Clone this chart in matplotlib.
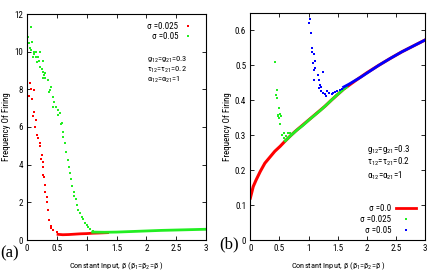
import matplotlib
matplotlib.use('Agg')
import matplotlib.pyplot as plt
from matplotlib import font_manager
from matplotlib.lines import Line2D

# ---------------- data ----------------
# panel (a): sigma = 0.025 (red) scattered points
a_red_x = [0.005, 0.005, 0.05, 0.07, 0.11, 0.03, 0.08, 0.12, 0.10, 0.15, 0.13, 0.17, 0.19, 0.21,
           0.22, 0.25, 0.23, 0.26, 0.26, 0.27, 0.28, 0.30, 0.31, 0.33, 0.33, 0.36, 0.37, 0.40,
           0.41, 0.44, 0.50, 0.52]
a_red_y = [8.82, 8.23, 8.35, 8.0, 7.97, 7.65, 7.47, 6.81, 6.58, 6.37, 6.02, 5.58, 5.4, 5.13,
           4.99, 4.51, 4.28, 4.16, 3.89, 3.45, 3.36, 2.92, 2.57, 2.27, 2.04, 1.59, 1.06, 0.74,
           0.62, 0.53, 0.42, 0.32]
# panel (a): sigma = 0.025 dense tail
a_red_tail_x = [0.52, 0.6, 0.7, 0.8, 0.9, 1.0, 1.1, 1.2, 1.35]
a_red_tail_y = [0.30, 0.28, 0.29, 0.31, 0.33, 0.34, 0.36, 0.37, 0.39]
# panel (a): sigma = 0.05 (green) scattered points
a_grn_x = [0.067, 0.005, 0.02, 0.04, 0.08, 0.05, 0.07, 0.11, 0.15, 0.22, 0.12, 0.10, 0.15, 0.19,
           0.16, 0.20, 0.27, 0.22, 0.25, 0.27, 0.31, 0.28, 0.26, 0.30, 0.36, 0.41, 0.39, 0.37,
           0.44, 0.46, 0.43, 0.49, 0.52, 0.55, 0.52, 0.58, 0.57, 0.60, 0.61, 0.64, 0.66, 0.69,
           0.71, 0.72, 0.74, 0.76, 0.78, 0.79, 0.82, 0.83, 0.86, 0.89, 0.92, 0.94, 0.97, 1.0,
           1.03, 1.06, 1.11, 1.17]
a_grn_y = [11.33, 11.12, 10.76, 10.48, 10.5, 10.18, 10.09, 10.0, 10.0, 10.0, 9.88, 9.74, 9.74, 9.7,
           9.47, 9.52, 9.52, 9.2, 9.06, 8.94, 8.89, 8.76, 8.59, 8.59, 8.5, 8.14, 7.97, 7.88,
           7.58, 7.35, 7.08, 7.08, 6.9, 6.73, 6.64, 6.2, 6.16, 5.75, 5.49, 5.13, 4.69, 4.25,
           3.89, 3.54, 3.22, 2.87, 2.57, 2.34, 2.16, 1.86, 1.59, 1.42, 1.24, 1.10, 0.89, 0.80,
           0.71, 0.57, 0.48, 0.41]
# panel (a): sigma = 0.05 dense tail
a_grn_tail_x = [1.1, 1.3, 1.5, 1.75, 2.0, 2.25, 2.5, 2.75, 3.0]
a_grn_tail_y = [0.42, 0.41, 0.42, 0.45, 0.48, 0.51, 0.53, 0.55, 0.57]

# panel (b): sigma = 0.0 (deterministic, red line)
b_det_x = [0, 0.05, 0.1, 0.17, 0.25, 0.34, 0.42, 0.51, 0.59, 0.68, 0.77, 0.94, 1.11, 1.28, 1.4,
           1.6, 1.8, 2.0, 2.2, 2.4, 2.6, 2.8, 3.0]
b_det_y = [0.12, 0.153, 0.172, 0.196, 0.22, 0.238, 0.254, 0.268, 0.282, 0.297, 0.311, 0.335,
           0.359, 0.383, 0.402, 0.432, 0.456, 0.479, 0.50, 0.52, 0.539, 0.556, 0.573]
# panel (b): sigma = 0.025 (green) scattered points
b_grn_x = [0.42, 0.45, 0.44, 0.45, 0.49, 0.48, 0.51, 0.47, 0.50, 0.52, 0.51, 0.55, 0.58, 0.57,
           0.61, 0.64, 0.68]
b_grn_y = [0.511, 0.429, 0.414, 0.407, 0.378, 0.359, 0.362, 0.354, 0.35, 0.356, 0.333, 0.302,
           0.307, 0.292, 0.297, 0.305, 0.307]
# panel (b): sigma = 0.025 dense part
b_grn_tail_x = [0.6, 0.7, 0.8, 0.9, 1.0, 1.1, 1.2, 1.3, 1.4, 1.5, 1.6, 1.65]
b_grn_tail_y = [0.284, 0.30, 0.315, 0.328, 0.343, 0.357, 0.371, 0.386, 0.402, 0.417, 0.432, 0.438]
# panel (b): sigma = 0.05 (blue) scattered points
b_blu_x = [1.04, 1.02, 1.01, 1.04, 1.06, 1.05, 1.10, 1.11, 1.07, 1.11, 1.10, 1.24, 1.16, 1.09,
           1.17, 1.19, 1.21, 1.18, 1.22, 1.25, 1.32, 1.28, 1.30, 1.35, 1.40, 1.42, 1.45, 1.48,
           1.53, 1.57]
b_blu_y = [0.649, 0.632, 0.621, 0.592, 0.551, 0.538, 0.534, 0.512, 0.508, 0.493, 0.486, 0.481,
           0.472, 0.458, 0.458, 0.445, 0.438, 0.436, 0.428, 0.422, 0.428, 0.417, 0.412, 0.42,
           0.417, 0.42, 0.423, 0.426, 0.429, 0.433]
# panel (b): sigma = 0.05 dense part
b_blu_tail_x = [1.6, 1.7, 1.8, 1.9, 2.0, 2.2, 2.4, 2.6, 2.8, 3.0]
b_blu_tail_y = [0.438, 0.447, 0.457, 0.467, 0.478, 0.50, 0.52, 0.539, 0.556, 0.573]

x_ticks = [0, 0.5, 1, 1.5, 2, 2.5, 3]
x_tick_labels = ['0', '0.5', '1', '1.5', '2', '2.5', '3']
a_y_ticks = [0, 2, 4, 6, 8, 10, 12]
b_y_ticks = [0, 0.1, 0.2, 0.3, 0.4, 0.5, 0.6]
b_y_tick_labels = ['0', '0.1', '0.2', '0.3', '0.4', '0.5', '0.6']

# ---------------- style ----------------
avail = {f.name for f in font_manager.fontManager.ttflist}
narrow = next((n for n in ['Liberation Sans Narrow', 'Roboto Condensed', 'Open Sans Condensed']
               if n in avail), 'Liberation Sans')
serif = 'Liberation Serif' if 'Liberation Serif' in avail else 'DejaVu Serif'
plt.rcParams['font.family'] = [narrow, 'DejaVu Sans']
plt.rcParams['mathtext.default'] = 'regular'

RED = '#ff0000'
GRN = '#22ee22'
BLU = '#0000ff'

fig = plt.figure(figsize=(4.36, 2.73), dpi=100)
axa = fig.add_axes([27 / 436, 33 / 273, 179 / 436, 226 / 273])
axb = fig.add_axes([250.3 / 436, 33 / 273, 175 / 436, 227 / 273])

def style(ax):
    ax.tick_params(direction='in', top=True, right=True, length=3, width=0.6,
                   labelsize=6.5, pad=3, colors='black')
    for s in ax.spines.values():
        s.set_linewidth(0.8)
    ax.set_xlim(0, 3)
    ax.set_xticks(x_ticks)
    ax.set_xticklabels(x_tick_labels)
    ax.set_xlabel(r'Constant Input, β (β$_1$=β$_2$=β )', fontsize=6, labelpad=5)
    ax.set_ylabel('Frequency Of Firing', fontsize=6.5, labelpad=2)

# ---- panel (a)
ax = axa
style(ax)
ax.set_ylim(0, 12)
ax.set_yticks(a_y_ticks)
ax.plot(a_red_tail_x, a_red_tail_y, '-', color=RED, lw=2)
ax.plot(a_red_x, a_red_y, 's', ms=1.6, mew=0, color=RED)
ax.plot(a_grn_x, a_grn_y, 's', ms=1.6, mew=0, color=GRN)
ax.plot(a_grn_tail_x, a_grn_tail_y, '-', color=GRN, lw=2)
ha = [Line2D([], [], ls='none', marker='s', ms=1.6, mew=0, color=RED),
      Line2D([], [], ls='none', marker='s', ms=1.6, mew=0, color=GRN)]
ax.legend(ha, ['σ =0.025', 'σ =0.05'], loc='upper right', bbox_to_anchor=(0.952, 0.985),
          frameon=False, markerfirst=False, handlelength=1.0, handletextpad=0.6,
          fontsize=6.5, borderpad=0, labelspacing=0.15)
for txt, yy in [('g$_{12}$=g$_{21}$=0.3', 60), ('τ$_{12}$=τ$_{21}$=0.2', 70),
                ('α$_{12}$=α$_{21}$=1', 80)]:
    ax.text(0.67, (240 - yy) / 226, txt, transform=ax.transAxes, fontsize=6,
            ha='left', va='center')
fig.text(0 / 436, 1 - 253 / 273, '(a)', fontsize=12, family=serif, ha='left', va='center')

# ---- panel (b)
ax = axb
style(ax)
ax.set_ylim(0, 0.65)
ax.set_yticks(b_y_ticks)
ax.set_yticklabels(b_y_tick_labels)
ax.plot(b_det_x, b_det_y, '-', color=RED, lw=2.2)
ax.plot(b_grn_tail_x, b_grn_tail_y, '-', color=GRN, lw=2)
ax.plot(b_grn_x, b_grn_y, 's', ms=1.6, mew=0, color=GRN)
ax.plot(b_blu_x, b_blu_y, 's', ms=1.6, mew=0, color=BLU, clip_on=True)
ax.plot(b_blu_tail_x, b_blu_tail_y, '-', color=BLU, lw=2)
hb = [Line2D([], [], ls='-', lw=2, color=RED),
      Line2D([], [], ls='none', marker='s', ms=1.6, mew=0, color=GRN),
      Line2D([], [], ls='none', marker='s', ms=1.6, mew=0, color=BLU)]
ax.legend(hb, ['σ =0.0', 'σ =0.025', 'σ =0.05'], loc='lower right',
          bbox_to_anchor=(0.97, 0.0), frameon=False, markerfirst=False,
          handlelength=2.2, handletextpad=0.5, fontsize=6.5, borderpad=0,
          labelspacing=0.25)
for txt, yy in [('g$_{12}$=g$_{21}$=0.3', 150), ('τ$_{12}$=τ$_{21}$=0.2', 162),
                ('α$_{12}$=α$_{21}$=1', 176)]:
    ax.text((367 - 250.3) / 175, (240 - yy) / 227, txt, transform=ax.transAxes,
            fontsize=6.5, ha='left', va='center')
fig.text(219 / 436, 1 - 244 / 273, '(b)', fontsize=12, family=serif, ha='left', va='center')

fig.savefig('out.png', dpi=100)
